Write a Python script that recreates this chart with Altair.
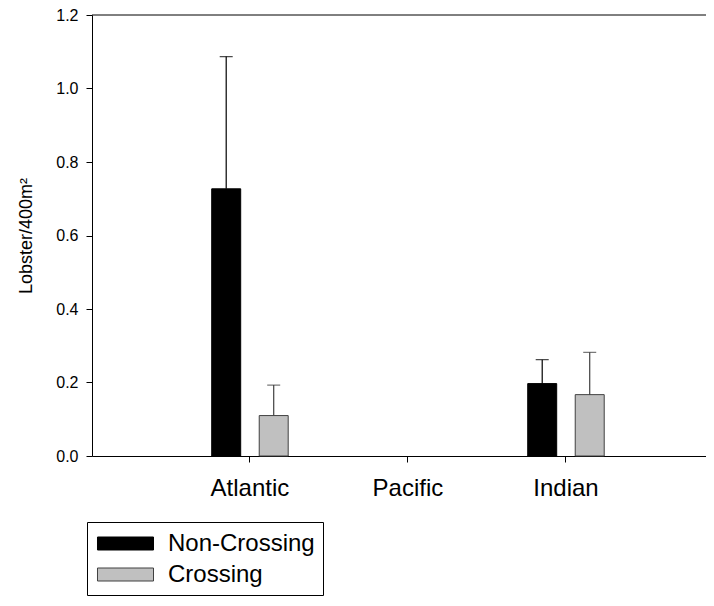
import altair as alt
import pandas as pd

regions = ["Atlantic", "Pacific", "Indian"]
groups = ["Non-Crossing", "Crossing"]
noncross_mean = [0.727, 0.0, 0.197]
noncross_err = [0.360, 0.0, 0.065]
cross_mean = [0.110, 0.0, 0.167]
cross_err = [0.083, 0.0, 0.115]
y_ticks = [0.0, 0.2, 0.4, 0.6, 0.8, 1.0, 1.2]

rows = []
for i, r in enumerate(regions):
    rows.append({"region": r, "group": groups[0], "mean": noncross_mean[i], "err": noncross_err[i]})
    rows.append({"region": r, "group": groups[1], "mean": cross_mean[i], "err": cross_err[i]})
df = pd.DataFrame(rows)

FONT = "Liberation Sans"

xscale = alt.Scale(domain=regions, paddingInner=0, paddingOuter=0.443, align=0.564)
xoff = alt.XOffset("group:N", sort=groups,
                   scale=alt.Scale(domain=groups, paddingInner=0.39, paddingOuter=0.858))
yscale = alt.Scale(domain=[0, 1.2], nice=False)

base = alt.Chart(df).transform_filter("datum.mean > 0").transform_calculate(
    top="datum.mean + datum.err")

bars = base.mark_bar(strokeWidth=1).encode(
    x=alt.X("region:N", sort=regions, scale=xscale,
            axis=alt.Axis(title=None, labelAngle=0, labelFontSize=24, labelPadding=14)),
    xOffset=xoff,
    y=alt.Y("mean:Q", scale=yscale,
            axis=alt.Axis(title="Lobster/400m²", values=y_ticks, format=".1f",
                          labelFontSize=16, titleFontSize=18, labelPadding=8, titlePadding=20)),
    fill=alt.Fill("group:N", scale=alt.Scale(domain=groups, range=["#000000", "#c0c0c0"]),
                  legend=alt.Legend(title=None)),
    stroke=alt.Stroke("group:N", scale=alt.Scale(domain=groups, range=["#000000", "#404040"]),
                      legend=alt.Legend(title=None)),
)

err_line = base.mark_rule(strokeWidth=1.2).encode(
    x=alt.X("region:N", sort=regions, scale=xscale),
    xOffset=xoff,
    y=alt.Y("mean:Q", scale=yscale),
    y2="top:Q",
    stroke=alt.Stroke("group:N", legend=None),
)

err_cap = base.mark_tick(size=13, thickness=0, strokeWidth=1.3).encode(
    x=alt.X("region:N", sort=regions, scale=xscale),
    xOffset=xoff,
    y=alt.Y("top:Q", scale=yscale),
    stroke=alt.Stroke("group:N", legend=None),
    fill=alt.value(None),
)

top_line = alt.Chart(pd.DataFrame({"v": [1.2]})).mark_rule(color="black", strokeWidth=1).encode(
    y=alt.Y("v:Q", scale=yscale)
)

chart = alt.layer(bars, err_line, err_cap, top_line).properties(
    width=614, height=441,
    autosize=alt.AutoSizeParams(type="none"),
    padding={"left": 84, "top": 7, "right": 0, "bottom": 142},
).configure_view(stroke=None).configure_axis(
    labelFont=FONT, titleFont=FONT, labelColor="black", titleColor="black",
    titleFontWeight="normal", tickSize=6, tickColor="black", domainColor="black",
    grid=False,
).configure_legend(
    orient="none", legendX=-5, legendY=507,
    strokeColor="black", fillColor="white", padding=8,
    labelFont=FONT, labelFontSize=24, labelColor="black",
    symbolType="M-2.154,-0.5H2.154V0.5H-2.154Z", symbolSize=676,
    symbolStrokeWidth=1, labelOffset=29, symbolOffset=17, rowPadding=5,
    cornerRadius=0,
)

chart.save("out.html", embed_options={"renderer": "svg", "actions": False})
